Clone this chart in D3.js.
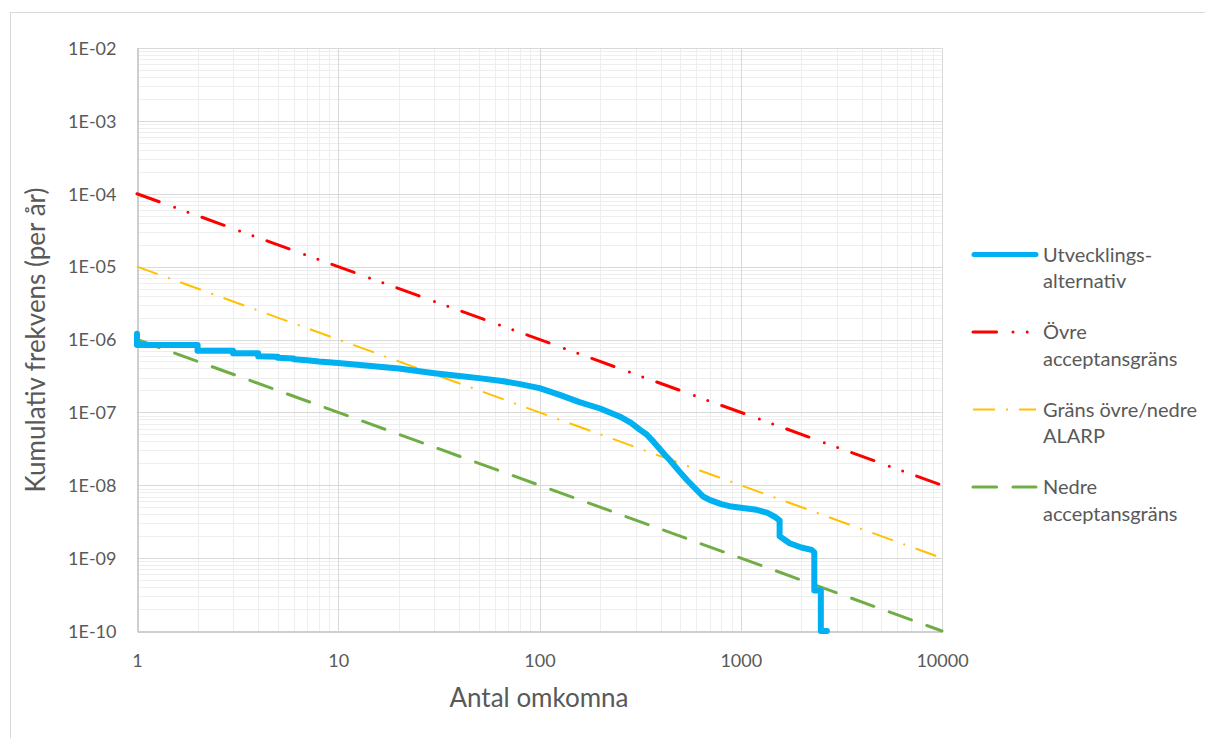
<!DOCTYPE html>
<html>
<head>
<meta charset="utf-8">
<script src="https://cdn.jsdelivr.net/npm/d3@7"></script>
<style>
  html, body { margin: 0; padding: 0; background: #fff; }
  svg { display: block; }
  text { font-family: Lato, "Open Sans", sans-serif; fill: #595959; }
</style>
</head>
<body>
<svg id="chart" width="1205" height="738"></svg>
<script>
// ---- data ----
const xTickValues = [1, 10, 100, 1000, 10000];
const xTickLabels = ["1", "10", "100", "1000", "10000"];
const yTickValues = [1e-10, 1e-9, 1e-8, 1e-7, 1e-6, 1e-5, 1e-4, 1e-3, 1e-2];
const yTickLabels = ["1E-10", "1E-09", "1E-08", "1E-07", "1E-06", "1E-05", "1E-04", "1E-03", "1E-02"];

// Utvecklingsalternativ (F/N curve)
const fnDeaths = [1, 1, 2, 2, 3, 3, 4, 4, 5, 5, 6, 6, 7, 8, 10, 15, 20, 30, 40, 50, 65, 80, 100, 126, 158, 200, 250, 285, 316, 340, 370, 398, 420, 445, 490, 540, 600, 650, 700, 800, 900, 1000, 1200, 1350, 1475, 1560, 1560, 1750, 2000, 2250, 2320, 2320, 2500, 2500, 2680];
const fnFreq = [1.2e-6, 8.4e-7, 8.4e-7, 7.0e-7, 7.0e-7, 6.5e-7, 6.5e-7, 5.9e-7, 5.8e-7, 5.6e-7, 5.5e-7, 5.35e-7, 5.2e-7, 5.0e-7, 4.75e-7, 4.3e-7, 4.0e-7, 3.45e-7, 3.15e-7, 2.95e-7, 2.7e-7, 2.44e-7, 2.15e-7, 1.74e-7, 1.38e-7, 1.13e-7, 8.8e-8, 7.2e-8, 5.75e-8, 5.0e-8, 3.9e-8, 3.1e-8, 2.6e-8, 2.2e-8, 1.6e-8, 1.18e-8, 8.8e-9, 7.0e-9, 6.3e-9, 5.5e-9, 5.1e-9, 4.9e-9, 4.6e-9, 4.2e-9, 3.7e-9, 3.3e-9, 2.0e-9, 1.6e-9, 1.4e-9, 1.3e-9, 1.2e-9, 3.6e-10, 3.6e-10, 1.0e-10, 1.0e-10];

// Criteria lines (endpoints N=1 and N=10000)
const limitDeaths = [1, 10000];
const upperLimit = [1e-4, 1e-8];   // Övre acceptansgräns
const alarpLimit = [1e-5, 1e-9];   // Gräns övre/nedre ALARP
const lowerLimit = [1e-6, 1e-10];  // Nedre acceptansgräns

const seriesNames = [["Utvecklings-", "alternativ"], ["Övre", "acceptansgräns"], ["Gräns övre/nedre", "ALARP"], ["Nedre", "acceptansgräns"]];

// ---- chart ----
const svg = d3.select("#chart");
svg.append("rect").attr("x", 0).attr("y", 0).attr("width", 1205).attr("height", 738).attr("fill", "#fff");
svg.append("rect").attr("x", 10.5).attr("y", 12.5).attr("width", 1200).attr("height", 740)
  .attr("fill", "none").attr("stroke", "#d9d9d9").attr("stroke-width", 1);

const x = d3.scaleLog().domain([1, 10000]).range([137, 942]);
const y = d3.scaleLog().domain([1e-10, 1e-2]).range([631, 48]);

const grid = svg.append("g");
// minor grid
const minorX = [], minorY = [];
for (let d = 1; d < 10000; d *= 10) for (let k = 2; k <= 9; k++) minorX.push(d * k);
for (let d = 1e-10; d < 1e-2 * 0.99; d *= 10) for (let k = 2; k <= 9; k++) minorY.push(d * k);
grid.selectAll(".mx").data(minorX).join("line")
  .attr("x1", d => Math.round(x(d)) + 0.5).attr("x2", d => Math.round(x(d)) + 0.5)
  .attr("y1", y(1e-2)).attr("y2", y(1e-10)).attr("stroke", "#eeeeee").attr("stroke-width", 1);
grid.selectAll(".my").data(minorY).join("line")
  .attr("y1", d => Math.round(y(d)) + 0.5).attr("y2", d => Math.round(y(d)) + 0.5)
  .attr("x1", x(1)).attr("x2", x(10000)).attr("stroke", "#eeeeee").attr("stroke-width", 1);
// major grid
grid.selectAll(".Mx").data(xTickValues.slice(1)).join("line")
  .attr("x1", d => Math.round(x(d)) + 0.5).attr("x2", d => Math.round(x(d)) + 0.5)
  .attr("y1", y(1e-2)).attr("y2", y(1e-10)).attr("stroke", "#d9d9d9").attr("stroke-width", 1);
grid.selectAll(".My").data(yTickValues.slice(1)).join("line")
  .attr("y1", d => Math.round(y(d)) + 0.5).attr("y2", d => Math.round(y(d)) + 0.5)
  .attr("x1", x(1)).attr("x2", x(10000)).attr("stroke", "#d9d9d9").attr("stroke-width", 1);

// axes
const xAxis = d3.axisBottom(x).tickValues(xTickValues).tickFormat((d, i) => xTickLabels[i]).tickSize(0).tickPadding(0);
const gx = svg.append("g").attr("transform", `translate(0,${Math.round(y(1e-10)) + 0.5})`).call(xAxis);
gx.select(".domain").attr("stroke", "#bfbfbf").attr("stroke-width", 1.5);
gx.selectAll("text").attr("dy", null).attr("y", 35).style("font-size", "18px").style("font-family", "Lato").attr("fill", "#595959");

const yAxis = d3.axisLeft(y).tickValues(yTickValues).tickFormat((d, i) => yTickLabels[i]).tickSize(0).tickPadding(0);
const gy = svg.append("g").attr("transform", `translate(${Math.round(x(1)) + 0.5},0)`).call(yAxis);
gy.select(".domain").attr("stroke", "#bfbfbf").attr("stroke-width", 1.5);
gy.selectAll("text").attr("x", -21).attr("dy", "0.35em").style("font-size", "18px").style("font-family", "Lato").attr("fill", "#595959");
gx.selectAll(".tick line").remove();
gy.selectAll(".tick line").remove();

// axis titles
svg.append("text").attr("x", 539).attr("y", 707).attr("text-anchor", "middle")
  .style("font-size", "26px").text("Antal omkomna");
svg.append("text").attr("transform", "translate(45,340) rotate(-90)").attr("text-anchor", "middle")
  .style("font-size", "26px").text("Kumulativ frekvens (per år)");

// series
const line = d3.line().x(d => x(d[0])).y(d => y(d[1]));
const styles = [
  { color: "#00b0f0", width: 6, dash: null, cap: "round" },
  { color: "#ff0000", width: 3, dash: "23.6 16.4 0 14.2 0 14.9", cap: "round" },
  { color: "#ffc000", width: 2, dash: "22 11 2 11", cap: "butt" },
  { color: "#70ad47", width: 3, dash: "23.6 16.4", cap: "round" }
];
svg.append("clipPath").attr("id", "plotclip").append("rect")
  .attr("x", x(1) - 5).attr("y", y(1e-2)).attr("width", x(10000) - x(1) + 10).attr("height", y(1e-10) - y(1e-2) + 3);

const plot = svg.append("g").attr("clip-path", "url(#plotclip)");
const limits = [upperLimit, alarpLimit, lowerLimit];
[3, 2, 1].forEach(i => {
  const vals = limits[i - 1];
  plot.append("path").datum(limitDeaths.map((n, j) => [n, vals[j]]))
    .attr("d", line).attr("fill", "none").attr("stroke", styles[i].color)
    .attr("stroke-width", styles[i].width).attr("stroke-dasharray", styles[i].dash)
    .attr("stroke-linecap", styles[i].cap);
});
svg.append("path").datum(fnDeaths.map((n, j) => [n, fnFreq[j]]))
  .attr("d", line).attr("fill", "none").attr("stroke", styles[0].color)
  .attr("stroke-width", styles[0].width).attr("stroke-linejoin", "round").attr("stroke-linecap", "round");

// legend
const legend = svg.append("g");
const legendY = [254.5, 332, 409.5, 487];
seriesNames.forEach((names, i) => {
  const st = styles[i];
  legend.append("line").attr("x1", i === 0 ? 974 : 973).attr("x2", 1036)
    .attr("y1", legendY[i]).attr("y2", legendY[i])
    .attr("stroke", st.color).attr("stroke-width", i === 0 ? 5 : st.width)
    .attr("stroke-dasharray", st.dash).attr("stroke-linecap", st.cap);
  names.forEach((t, k) => {
    legend.append("text").attr("x", 1043).attr("y", legendY[i] + k * 26.5).attr("dy", "0.35em")
      .style("font-size", "20px").text(t);
  });
});
</script>
</body>
</html>
